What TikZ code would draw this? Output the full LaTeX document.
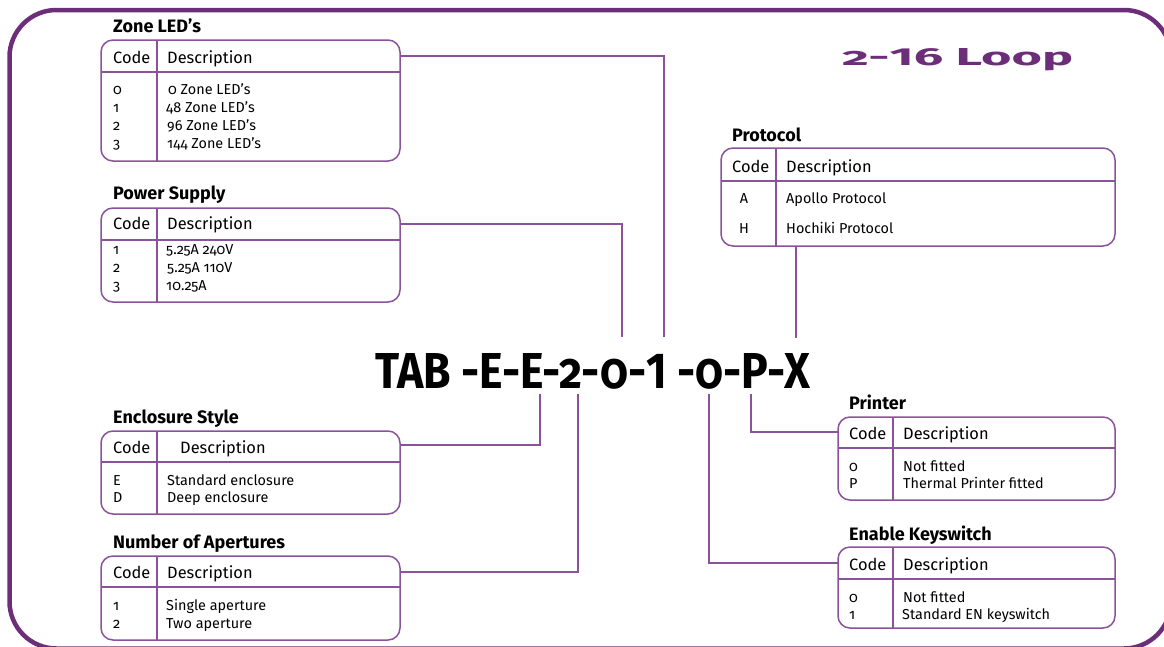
\documentclass[tikz,border=0pt]{standalone}
\usepackage{fontspec}
\setmainfont{Fira Sans}[Numbers=OldStyle]
\usepackage{graphicx}
\definecolor{borderpurple}{RGB}{108,46,120}
\definecolor{linepurple}{RGB}{138,82,155}
\tikzset{
  tbox/.style={draw=linepurple, line width=1.5pt, rounded corners=12pt, inner sep=0pt, outer sep=0pt},
  tline/.style={draw=linepurple, line width=1.5pt},
  conn/.style={draw=linepurple, line width=1.5pt},
  ttl/.style={anchor=base west, inner sep=0pt, font=\fontsize{18}{21}\selectfont\bfseries},
  hdr/.style={anchor=base west, inner sep=0pt, font=\fontsize{16.4}{19}\selectfont},
  row/.style={anchor=base west, inner sep=0pt, font=\fontsize{14.4}{17}\selectfont},
  rowc/.style={anchor=base, inner sep=0pt, font=\fontsize{14.4}{17}\selectfont},
}
\newcommand\codetab[7]{%
  \node[tbox, anchor=north west, minimum width={(#4-#2)*1pt}, minimum height={(#5-#3)*1pt}] (#1) at (#2,#3) {};
  \draw[tline] (#2,#6) -- (#4,#6);
  \draw[tline] (#7,#3) -- (#7,#5);
}
\begin{document}
\begin{tikzpicture}[x=1pt,y=-1pt]
\useasboundingbox (0,0) rectangle (1164,646);
% outer border
\draw[draw=borderpurple, line width=4.5pt, rounded corners=47pt] (9.5,10) rectangle (1171,648.5);

% title
\node[anchor=base west, inner sep=0pt, text=borderpurple] (loop) at (842,65)
  {\resizebox{231pt}{17pt}{\bfseries 2-{\addfontfeature{Numbers=Lining}16} Loop}};

% code string
\node[anchor=base west, inner sep=0pt] (code) at (375,388)
  {\resizebox{435pt}{35pt}{\bfseries TAB -E-E-2-0-{\addfontfeature{Numbers=Lining}1} -0-P-X}};

% ---------- Zone LED's
\codetab{zone}{101}{40}{400}{161}{72}{157}
\node[ttl] (zt) at (113,32) {Zone LED’s};
\node[hdr] (zc) at (113,63) {Code};
\node[hdr] (zd) at (167,63) {Description};
\node[row] (z0) at (113,94) {0};  \node[row] (z0d) at (168,94) {0 Zone LED’s};
\node[row] (z1) at (113,112) {1}; \node[row] (z1d) at (166,112) {48 Zone LED’s};
\node[row] (z2) at (113,130) {2}; \node[row] (z2d) at (167,130) {96 Zone LED’s};
\node[row] (z3) at (113,148) {3}; \node[row] (z3d) at (167,148) {144 Zone LED’s};

% ---------- Power Supply
\codetab{power}{101}{208}{400}{302}{240}{157}
\node[ttl] (pt) at (113,199) {Power Supply};
\node[hdr] (pc) at (113,229) {Code};
\node[hdr] (pd) at (167,229) {Description};
\node[row] (p1) at (113,254) {1}; \node[row] (p1d) at (166,254) {5.25A 240V};
\node[row] (p2) at (113,272) {2}; \node[row] (p2d) at (167,272) {5.25A 110V};
\node[row] (p3) at (113,290) {3}; \node[row] (p3d) at (166,290) {10.25A};

% ---------- Enclosure Style
\codetab{encl}{101}{431}{400}{514}{462}{157}
\node[ttl] (et) at (113,423) {Enclosure Style};
\node[hdr] (ec) at (113,453) {Code};
\node[hdr] (ed) at (180,453) {Description};
\node[row] (e1) at (113,485) {E}; \node[row] (e1d) at (167,485) {Standard enclosure};
\node[row] (e2) at (113,502) {D}; \node[row] (e2d) at (167,502) {Deep enclosure};

% ---------- Number of Apertures
\codetab{apert}{101}{556}{400}{640}{587}{157}
\node[ttl] (at) at (113,548) {Number of Apertures};
\node[hdr] (ac) at (113,578) {Code};
\node[hdr] (ad) at (167,578) {Description};
\node[row] (a1) at (113,610) {1}; \node[row] (a1d) at (166,610) {Single aperture};
\node[row] (a2) at (113,628) {2}; \node[row] (a2d) at (166,628) {Two aperture};

% ---------- Protocol
\codetab{proto}{721}{148}{1115}{246}{181}{776}
\node[ttl] (rt) at (732,141) {Protocol};
\node[hdr] (rc) at (732,172) {Code};
\node[hdr] (rd) at (786,172) {Description};
\node[rowc] (r1) at (744,203) {A}; \node[row] (r1d) at (786,203) {Apollo Protocol};
\node[rowc] (r2) at (744,233) {H}; \node[row] (r2d) at (786,233) {Hochiki Protocol};

% ---------- Printer
\codetab{print}{838}{417}{1115}{500}{448}{893}
\node[ttl] (nt) at (849,409) {Printer};
\node[hdr] (nc) at (849,439) {Code};
\node[hdr] (nd) at (903,439) {Description};
\node[row] (n1) at (849,471) {0}; \node[row] (n1d) at (903,471) {Not fitted};
\node[row] (n2) at (849,488) {P}; \node[row] (n2d) at (903,488) {Thermal Printer fitted};

% ---------- Enable Keyswitch
\codetab{key}{838}{547}{1115}{628}{579}{893}
\node[ttl] (kt) at (849,540) {Enable Keyswitch};
\node[hdr] (kc) at (849,570) {Code};
\node[hdr] (kd) at (903,570) {Description};
\node[row] (k1) at (849,602) {0}; \node[row] (k1d) at (903,602) {Not fitted};
\node[row] (k2) at (849,619) {1}; \node[row] (k2d) at (902,619) {Standard EN keyswitch};

% ---------- connector end points on the code string
\coordinate (czone) at (664,337);
\coordinate (cpower) at (622,337);
\coordinate (cproto) at (796,338);
\coordinate (cencl) at (540,394);
\coordinate (capert) at (578,394);
\coordinate (cprint) at (751,394);
\coordinate (ckey) at (709,394);
% start points on the tables
\coordinate (szone) at (400,56);
\coordinate (spower) at (400,224);
\coordinate (sproto) at (796,246);
\coordinate (sencl) at (400,445);
\coordinate (sapert) at (400,572);
\coordinate (sprint) at (838,432);
\coordinate (skey) at (838,563);

\draw[conn] (szone) -| (czone);
\draw[conn] (spower) -| (cpower);
\draw[conn] (sproto) -- (cproto);
\draw[conn] (sencl) -| (cencl);
\draw[conn] (sapert) -| (capert);
\draw[conn] (sprint) -| (cprint);
\draw[conn] (skey) -| (ckey);
\end{tikzpicture}
\end{document}
